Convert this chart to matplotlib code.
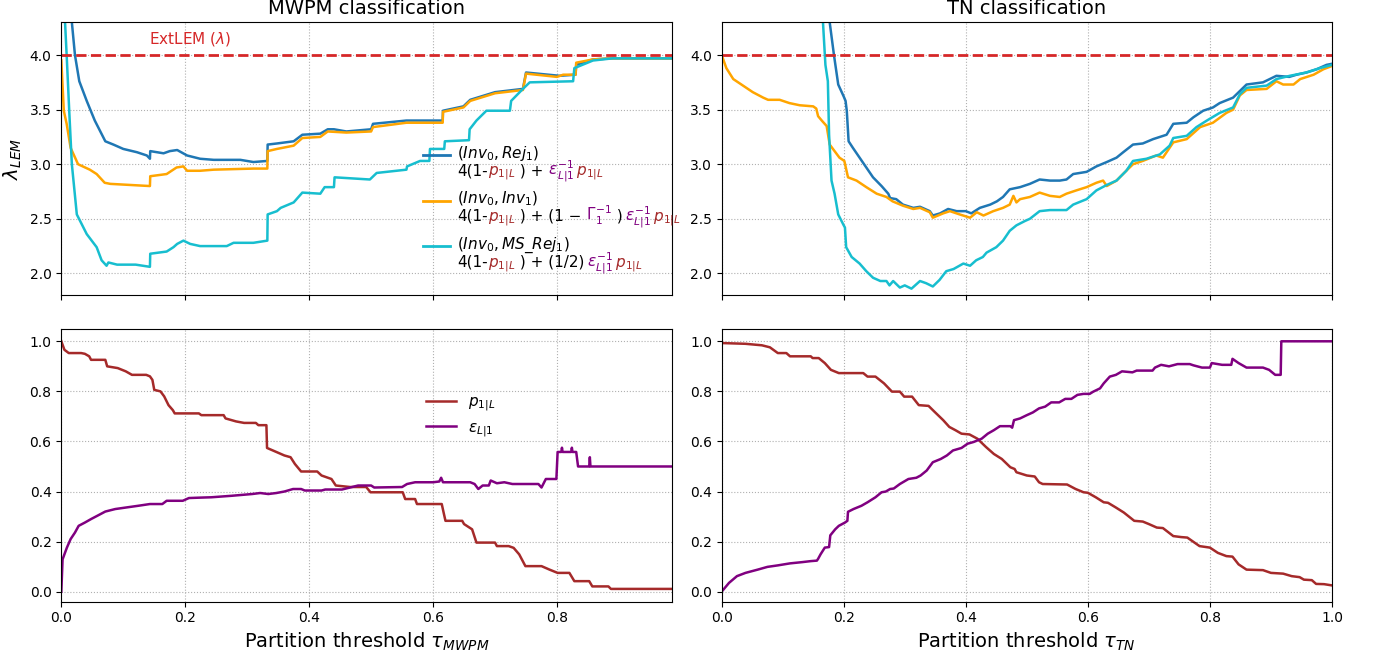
import numpy as np
import matplotlib
matplotlib.use("Agg")
from matplotlib import pyplot as plt
from matplotlib.lines import Line2D
from matplotlib.offsetbox import TextArea, HPacker, VPacker, DrawingArea, AnchoredOffsetbox

# ---- data (x = partition threshold, y = value) ----
mwpm_rej = np.array([
    [0.0, 8.0], [0.010, 5.0], [0.017, 4.3], [0.022, 4.0], [0.029, 3.76], [0.041, 3.58],
    [0.054, 3.40], [0.071, 3.21], [0.084, 3.18], [0.100, 3.14], [0.122, 3.11], [0.138, 3.08],
    [0.143, 3.05], [0.1435, 3.12], [0.165, 3.10], [0.175, 3.12], [0.187, 3.13], [0.203, 3.08],
    [0.224, 3.05], [0.246, 3.04], [0.289, 3.04], [0.31, 3.02], [0.3325, 3.03], [0.333, 3.18],
    [0.348, 3.19], [0.375, 3.21], [0.389, 3.27], [0.418, 3.28], [0.43, 3.32], [0.44, 3.32],
    [0.46, 3.30], [0.50, 3.32], [0.503, 3.37], [0.557, 3.40], [0.6155, 3.40], [0.616, 3.49],
    [0.649, 3.53], [0.66, 3.59], [0.70, 3.66], [0.745, 3.69], [0.750, 3.84], [0.804, 3.81],
    [0.83, 3.82], [0.831, 3.91], [0.858, 3.96], [0.89, 3.97], [0.985, 3.97]])

mwpm_inv = np.array([
    [0.0, 3.95], [0.004, 3.49], [0.0086, 3.37], [0.015, 3.15], [0.027, 3.0], [0.046, 2.95],
    [0.057, 2.91], [0.070, 2.83], [0.079, 2.82], [0.143, 2.80], [0.1435, 2.89], [0.17, 2.91],
    [0.186, 2.97], [0.197, 2.98], [0.203, 2.94], [0.224, 2.94], [0.246, 2.95], [0.31, 2.96],
    [0.3325, 2.96], [0.333, 3.12], [0.348, 3.14], [0.375, 3.17], [0.389, 3.24], [0.418, 3.25],
    [0.43, 3.30], [0.46, 3.29], [0.50, 3.30], [0.503, 3.34], [0.557, 3.38], [0.6155, 3.38],
    [0.616, 3.48], [0.649, 3.52], [0.66, 3.58], [0.70, 3.65], [0.745, 3.68], [0.750, 3.83],
    [0.80, 3.80], [0.81, 3.82], [0.83, 3.82], [0.831, 3.93], [0.858, 3.96], [0.89, 3.97],
    [0.985, 3.97]])

mwpm_msrej = np.array([
    [0.0, 8.0], [0.006, 4.3], [0.0086, 4.0], [0.013, 3.46], [0.017, 3.0], [0.025, 2.54],
    [0.033, 2.45], [0.041, 2.36], [0.057, 2.24], [0.065, 2.12], [0.073, 2.07], [0.076, 2.10],
    [0.09, 2.08], [0.12, 2.08], [0.143, 2.06], [0.1435, 2.18], [0.17, 2.20], [0.181, 2.24],
    [0.187, 2.27], [0.197, 2.30], [0.208, 2.27], [0.224, 2.25], [0.267, 2.25], [0.278, 2.28],
    [0.31, 2.28], [0.3325, 2.30], [0.333, 2.54], [0.348, 2.57], [0.354, 2.60], [0.375, 2.65],
    [0.389, 2.74], [0.418, 2.73], [0.425, 2.79], [0.44, 2.79], [0.441, 2.88], [0.498, 2.86],
    [0.509, 2.92], [0.557, 2.95], [0.558, 2.98], [0.579, 3.03], [0.594, 3.03], [0.595, 3.14],
    [0.618, 3.14], [0.619, 3.21], [0.658, 3.22], [0.659, 3.32], [0.67, 3.40], [0.686, 3.49],
    [0.724, 3.49], [0.726, 3.58], [0.745, 3.69], [0.756, 3.75], [0.826, 3.76], [0.828, 3.88],
    [0.858, 3.95], [0.89, 3.97], [0.985, 3.97]])

tn_rej = np.array([
    [0.0, 60.0], [0.17, 6.0], [0.177, 4.3], [0.184, 4.0], [0.191, 3.73], [0.2, 3.62],
    [0.203, 3.58], [0.205, 3.49], [0.208, 3.21], [0.215, 3.15], [0.226, 3.06], [0.237, 2.97],
    [0.248, 2.88], [0.262, 2.80], [0.273, 2.73], [0.276, 2.69], [0.286, 2.68], [0.297, 2.63],
    [0.314, 2.60], [0.325, 2.61], [0.341, 2.57], [0.346, 2.53], [0.358, 2.55], [0.371, 2.59],
    [0.385, 2.57], [0.40, 2.57], [0.409, 2.55], [0.423, 2.60], [0.44, 2.63], [0.451, 2.66],
    [0.461, 2.70], [0.472, 2.77], [0.489, 2.79], [0.505, 2.82], [0.521, 2.86], [0.538, 2.85],
    [0.554, 2.85], [0.565, 2.86], [0.576, 2.91], [0.598, 2.93], [0.614, 2.98], [0.631, 3.02],
    [0.647, 3.06], [0.658, 3.11], [0.674, 3.18], [0.69, 3.19], [0.707, 3.23], [0.729, 3.27],
    [0.74, 3.37], [0.762, 3.38], [0.773, 3.43], [0.789, 3.49], [0.805, 3.52], [0.816, 3.56],
    [0.838, 3.61], [0.849, 3.67], [0.86, 3.73], [0.887, 3.75], [0.909, 3.81], [0.93, 3.80],
    [0.942, 3.82], [0.958, 3.84], [0.975, 3.87], [0.991, 3.91], [1.0, 3.92]])

tn_inv = np.array([
    [0.0, 4.0], [0.0077, 3.88], [0.019, 3.78], [0.035, 3.72], [0.051, 3.66], [0.068, 3.61],
    [0.076, 3.59], [0.095, 3.59], [0.111, 3.56], [0.128, 3.54], [0.15, 3.53], [0.155, 3.51],
    [0.158, 3.44], [0.164, 3.40], [0.172, 3.35], [0.177, 3.18], [0.185, 3.12], [0.193, 3.06],
    [0.201, 3.03], [0.207, 2.88], [0.221, 2.85], [0.237, 2.79], [0.254, 2.73], [0.27, 2.70],
    [0.28, 2.66], [0.297, 2.62], [0.314, 2.59], [0.325, 2.60], [0.341, 2.56], [0.346, 2.51],
    [0.363, 2.55], [0.374, 2.57], [0.39, 2.54], [0.407, 2.51], [0.418, 2.56], [0.429, 2.53],
    [0.445, 2.57], [0.461, 2.60], [0.472, 2.63], [0.478, 2.71], [0.483, 2.65], [0.489, 2.68],
    [0.505, 2.70], [0.521, 2.74], [0.538, 2.71], [0.554, 2.70], [0.565, 2.73], [0.581, 2.76],
    [0.598, 2.79], [0.614, 2.83], [0.625, 2.85], [0.631, 2.80], [0.647, 2.85], [0.663, 2.94],
    [0.674, 3.0], [0.69, 3.03], [0.712, 3.08], [0.723, 3.06], [0.74, 3.20], [0.762, 3.23],
    [0.784, 3.34], [0.805, 3.38], [0.827, 3.47], [0.838, 3.50], [0.849, 3.63], [0.86, 3.68],
    [0.893, 3.69], [0.909, 3.76], [0.92, 3.73], [0.937, 3.73], [0.948, 3.78], [0.97, 3.82],
    [0.986, 3.87], [1.0, 3.90]])

tn_msrej = np.array([
    [0.0, 60.0], [0.16, 6.0], [0.166, 4.3], [0.170, 3.91], [0.174, 3.76], [0.176, 3.27],
    [0.18, 2.85], [0.185, 2.73], [0.191, 2.54], [0.2, 2.44], [0.202, 2.42], [0.204, 2.24],
    [0.213, 2.15], [0.226, 2.09], [0.237, 2.02], [0.248, 1.96], [0.26, 1.93], [0.27, 1.93],
    [0.275, 1.89], [0.281, 1.93], [0.292, 1.87], [0.30, 1.89], [0.311, 1.86], [0.325, 1.93],
    [0.335, 1.91], [0.346, 1.88], [0.357, 1.94], [0.368, 2.02], [0.38, 2.04], [0.396, 2.09],
    [0.407, 2.07], [0.417, 2.12], [0.428, 2.15], [0.434, 2.19], [0.45, 2.24], [0.461, 2.30],
    [0.472, 2.39], [0.483, 2.44], [0.497, 2.48], [0.505, 2.50], [0.521, 2.57], [0.538, 2.58],
    [0.565, 2.58], [0.576, 2.63], [0.598, 2.68], [0.614, 2.76], [0.631, 2.81], [0.647, 2.85],
    [0.663, 2.94], [0.674, 3.03], [0.696, 3.05], [0.718, 3.09], [0.734, 3.17], [0.74, 3.24],
    [0.762, 3.26], [0.778, 3.34], [0.795, 3.40], [0.816, 3.47], [0.838, 3.52], [0.849, 3.64],
    [0.86, 3.70], [0.893, 3.72], [0.909, 3.78], [0.931, 3.81], [0.958, 3.84], [0.98, 3.88],
    [1.0, 3.91]])

mwpm_p = np.array([
    [0.0, 1.0], [0.005, 0.966], [0.012, 0.953], [0.032, 0.953], [0.038, 0.95], [0.045, 0.94],
    [0.048, 0.926], [0.071, 0.926], [0.074, 0.90], [0.091, 0.893], [0.104, 0.88], [0.114, 0.866],
    [0.137, 0.866], [0.143, 0.86], [0.147, 0.846], [0.15, 0.806], [0.16, 0.80], [0.166, 0.78],
    [0.173, 0.745], [0.18, 0.725], [0.183, 0.712], [0.222, 0.712], [0.226, 0.705], [0.262, 0.705],
    [0.265, 0.692], [0.282, 0.68], [0.295, 0.674], [0.314, 0.674], [0.318, 0.665], [0.331, 0.665],
    [0.332, 0.574], [0.347, 0.558], [0.36, 0.544], [0.37, 0.537], [0.377, 0.51], [0.387, 0.48],
    [0.413, 0.48], [0.42, 0.464], [0.436, 0.45], [0.443, 0.424], [0.466, 0.418], [0.492, 0.418],
    [0.499, 0.397], [0.551, 0.397], [0.555, 0.37], [0.571, 0.37], [0.574, 0.35], [0.614, 0.35],
    [0.617, 0.316], [0.62, 0.283], [0.647, 0.283], [0.65, 0.27], [0.663, 0.249], [0.67, 0.196],
    [0.70, 0.196], [0.703, 0.182], [0.722, 0.182], [0.73, 0.175], [0.739, 0.149], [0.749, 0.102],
    [0.775, 0.102], [0.788, 0.088], [0.801, 0.075], [0.82, 0.075], [0.828, 0.042], [0.852, 0.042],
    [0.857, 0.021], [0.883, 0.021], [0.887, 0.011], [0.985, 0.011]])

mwpm_eps = np.array([
    [0.0, 0.0], [0.002, 0.129], [0.009, 0.176], [0.015, 0.21], [0.022, 0.236], [0.028, 0.263],
    [0.038, 0.276], [0.048, 0.29], [0.058, 0.303], [0.071, 0.32], [0.087, 0.33], [0.104, 0.336],
    [0.124, 0.343], [0.143, 0.35], [0.163, 0.35], [0.17, 0.363], [0.196, 0.363], [0.206, 0.374],
    [0.229, 0.376], [0.242, 0.377], [0.275, 0.383], [0.308, 0.39], [0.321, 0.394], [0.334, 0.39],
    [0.347, 0.394], [0.36, 0.40], [0.374, 0.41], [0.387, 0.41], [0.393, 0.404], [0.42, 0.404],
    [0.426, 0.408], [0.453, 0.408], [0.466, 0.416], [0.479, 0.424], [0.5, 0.424], [0.505, 0.416],
    [0.55, 0.418], [0.558, 0.43], [0.571, 0.437], [0.60, 0.437], [0.61, 0.44], [0.613, 0.455],
    [0.616, 0.437], [0.66, 0.437], [0.667, 0.43], [0.673, 0.41], [0.68, 0.424], [0.69, 0.424],
    [0.693, 0.444], [0.703, 0.433], [0.715, 0.437], [0.728, 0.43], [0.77, 0.43], [0.775, 0.416],
    [0.782, 0.45], [0.799, 0.45], [0.801, 0.558], [0.807, 0.558], [0.808, 0.575], [0.809, 0.558],
    [0.823, 0.558], [0.824, 0.575], [0.825, 0.558], [0.831, 0.558], [0.834, 0.50], [0.852, 0.50],
    [0.853, 0.537], [0.854, 0.50], [0.985, 0.50]])

tn_p = np.array([
    [0.0, 0.993], [0.039, 0.99], [0.066, 0.984], [0.079, 0.976], [0.092, 0.953], [0.106, 0.953],
    [0.112, 0.94], [0.146, 0.94], [0.149, 0.933], [0.159, 0.933], [0.169, 0.913], [0.179, 0.886],
    [0.192, 0.873], [0.232, 0.873], [0.239, 0.859], [0.252, 0.859], [0.266, 0.832], [0.279, 0.799],
    [0.292, 0.799], [0.299, 0.779], [0.312, 0.779], [0.323, 0.745], [0.339, 0.742], [0.349, 0.718],
    [0.363, 0.685], [0.373, 0.658], [0.383, 0.645], [0.393, 0.631], [0.406, 0.628], [0.419, 0.611],
    [0.433, 0.578], [0.446, 0.55], [0.459, 0.53], [0.473, 0.497], [0.48, 0.49], [0.483, 0.477],
    [0.5, 0.464], [0.513, 0.46], [0.52, 0.437], [0.526, 0.43], [0.566, 0.428], [0.58, 0.41],
    [0.593, 0.397], [0.60, 0.395], [0.613, 0.377], [0.626, 0.357], [0.633, 0.355], [0.646, 0.336],
    [0.659, 0.316], [0.676, 0.283], [0.69, 0.28], [0.70, 0.27], [0.713, 0.256], [0.723, 0.254],
    [0.74, 0.222], [0.753, 0.218], [0.763, 0.216], [0.783, 0.182], [0.80, 0.176], [0.813, 0.155],
    [0.827, 0.142], [0.837, 0.14], [0.847, 0.109], [0.86, 0.088], [0.887, 0.086], [0.90, 0.075],
    [0.92, 0.072], [0.934, 0.062], [0.947, 0.058], [0.954, 0.048], [0.967, 0.046], [0.974, 0.031],
    [0.987, 0.03], [1.0, 0.025]])

tn_eps = np.array([
    [0.0, 0.0], [0.012, 0.035], [0.025, 0.062], [0.039, 0.075], [0.059, 0.088], [0.075, 0.099],
    [0.092, 0.105], [0.112, 0.113], [0.132, 0.118], [0.146, 0.122], [0.156, 0.124], [0.158, 0.131],
    [0.162, 0.149], [0.169, 0.176], [0.176, 0.178], [0.178, 0.225], [0.186, 0.249], [0.192, 0.263],
    [0.202, 0.276], [0.206, 0.283], [0.207, 0.319], [0.216, 0.33], [0.229, 0.343], [0.239, 0.357],
    [0.252, 0.377], [0.262, 0.397], [0.269, 0.40], [0.276, 0.41], [0.282, 0.412], [0.292, 0.43],
    [0.306, 0.45], [0.319, 0.455], [0.326, 0.464], [0.336, 0.484], [0.346, 0.517], [0.359, 0.53],
    [0.369, 0.544], [0.379, 0.564], [0.393, 0.574], [0.403, 0.591], [0.413, 0.598], [0.426, 0.611],
    [0.436, 0.631], [0.446, 0.645], [0.456, 0.661], [0.473, 0.661], [0.476, 0.655], [0.479, 0.685],
    [0.489, 0.692], [0.5, 0.705], [0.51, 0.716], [0.52, 0.732], [0.53, 0.739], [0.54, 0.756],
    [0.553, 0.756], [0.563, 0.77], [0.573, 0.77], [0.583, 0.786], [0.593, 0.79], [0.603, 0.79],
    [0.609, 0.799], [0.62, 0.812], [0.626, 0.832], [0.636, 0.859], [0.646, 0.866], [0.656, 0.88],
    [0.673, 0.876], [0.68, 0.883], [0.706, 0.883], [0.71, 0.895], [0.72, 0.906], [0.733, 0.9],
    [0.747, 0.909], [0.767, 0.909], [0.773, 0.904], [0.787, 0.895], [0.80, 0.895], [0.803, 0.913],
    [0.82, 0.906], [0.835, 0.906], [0.837, 0.93], [0.847, 0.913], [0.86, 0.895], [0.887, 0.895],
    [0.897, 0.886], [0.907, 0.866], [0.916, 0.866], [0.917, 1.0], [1.0, 1.0]])

ext_lem = 4.0

c_rej, c_inv, c_ms = '#1f77b4', '#ffa500', '#17becf'
c_p, c_eps = '#a52a2a', '#800080'
c_ext = '#d62728'
LW = 1.8

fig, axs = plt.subplots(2, 2, figsize=(13.75, 6.56), dpi=100, sharex='col')
fig.subplots_adjust(left=0.0446, right=0.9687, bottom=0.0828, top=0.966, wspace=0.082, hspace=0.123)

for ax, rej, inv, ms, xmax in [(axs[0, 0], mwpm_rej, mwpm_inv, mwpm_msrej, 0.985),
                               (axs[0, 1], tn_rej, tn_inv, tn_msrej, 1.0)]:
    ax.plot(rej[:, 0], rej[:, 1], color=c_rej, lw=LW)
    ax.plot(inv[:, 0], inv[:, 1], color=c_inv, lw=LW)
    ax.plot(ms[:, 0], ms[:, 1], color=c_ms, lw=LW)
    ax.axhline(ext_lem, color=c_ext, ls='--', lw=2)
    ax.set_ylim(1.8, 4.3)
    ax.set_xlim(0, xmax)
    ax.set_yticks([2.0, 2.5, 3.0, 3.5, 4.0])

for ax, p, eps, xmax in [(axs[1, 0], mwpm_p, mwpm_eps, 0.985), (axs[1, 1], tn_p, tn_eps, 1.0)]:
    ax.plot(p[:, 0], p[:, 1], color=c_p, lw=LW, label=r'$p_{1|L}$')
    ax.plot(eps[:, 0], eps[:, 1], color=c_eps, lw=LW, label=r'$\epsilon_{L|1}$')
    ax.set_ylim(-0.04, 1.05)
    ax.set_xlim(0, xmax)
    ax.set_yticks([0.0, 0.2, 0.4, 0.6, 0.8, 1.0])

for ax in axs.flat:
    ax.grid(True, ls=':', color='#b0b0b0', lw=0.8)
    ax.tick_params(labelsize=10)
    ax.yaxis.set_major_formatter(matplotlib.ticker.FormatStrFormatter('%.1f'))
    ax.xaxis.set_major_formatter(matplotlib.ticker.FormatStrFormatter('%.1f'))

axs[0, 0].set_title('MWPM classification', fontsize=14)
axs[0, 1].set_title('TN classification', fontsize=14)
axs[0, 0].set_ylabel(r'$\lambda_{LEM}$', fontsize=14)
axs[1, 0].set_xlabel(r'Partition threshold $\tau_{MWPM}$', fontsize=14)
axs[1, 1].set_xlabel(r'Partition threshold $\tau_{TN}$', fontsize=14)
axs[0, 0].text(0.208, 4.145, r'ExtLEM ($\lambda$)', color=c_ext, fontsize=11, ha='center', va='center')

axs[1, 0].legend(loc='upper left', bbox_to_anchor=(0.597, 0.76), frameon=False, fontsize=11,
                 borderaxespad=0, borderpad=0, handlelength=2.0, labelspacing=0.4)

# legend with coloured formulas
FS = 11


def mixed(parts):
    return HPacker(children=[TextArea(s, textprops=dict(color=c, fontsize=FS)) for s, c in parts],
                   align='baseline', pad=0, sep=0)


k = 'black'
entries = [
    (c_rej, r'$(Inv_0, Rej_1)$',
     [('4(1-', k), (r'$p_{1|L}$', c_p), (' ) +', k), (r'$\ \epsilon_{L|1}^{-1}$', c_eps), (r'$\,p_{1|L}$', c_p)]),
    (c_inv, r'$(Inv_0, Inv_1)$',
     [('4(1-', k), (r'$p_{1|L}$', c_p), (' ) + (1 \u2212', k), (r'$\ \Gamma_1^{-1}$', c_eps), (' )', k),
      (r'$\,\epsilon_{L|1}^{-1}$', c_eps), (r'$\,p_{1|L}$', c_p)]),
    (c_ms, r'$(Inv_0, MS\_Rej_1)$',
     [('4(1-', k), (r'$p_{1|L}$', c_p), (' ) + (1/2)', k), (r'$\,\epsilon_{L|1}^{-1}$', c_eps), (r'$\,p_{1|L}$', c_p)]),
]
rows = []
for col, title, parts in entries:
    da = DrawingArea(20, 14, 0, 0)
    da.add_artist(Line2D([0, 20], [6, 6], color=col, lw=2))
    txt = VPacker(children=[TextArea(title, textprops=dict(fontsize=FS)), mixed(parts)],
                  align='left', pad=0, sep=-3)
    rows.append(HPacker(children=[da, txt], align='top', pad=0, sep=5))
box = VPacker(children=rows, align='left', pad=0, sep=4)
axs[0, 0].add_artist(AnchoredOffsetbox(loc='upper left', child=box, pad=0, borderpad=0, frameon=False,
                                       bbox_to_anchor=(0.592, 0.554), bbox_transform=axs[0, 0].transAxes))

fig.savefig('out.png', dpi=100)
